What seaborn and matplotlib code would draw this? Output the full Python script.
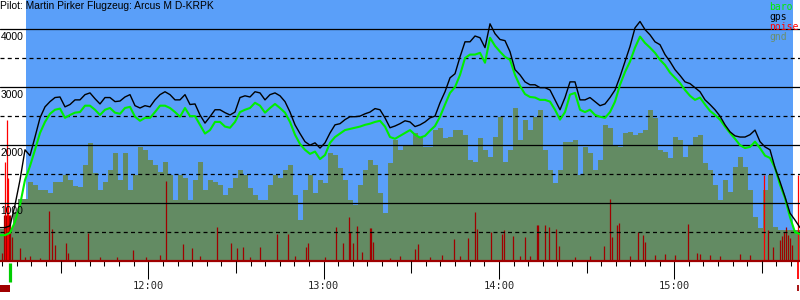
import numpy as np
import pandas as pd
import matplotlib
matplotlib.use("Agg")
import matplotlib.pyplot as plt
import matplotlib.transforms as mtransforms
from matplotlib.patches import Rectangle
import seaborn as sns

# ---------------- data ----------------
title_text = "Pilot: Martin Pirker Flugzeug: Arcus M D-KRPK"
legend_labels = ["baro", "gps", "noise", "gnd"]

# regular logger samples (minutes since midnight)
sample_start_min = 669.24      # 11:09:14
sample_step_min = 1.7114

gps_alt = [
    580, 580, 610, 970, 1400, 1920, 1820, 2140, 2470, 2660, 2750, 2820, 2830, 2660, 2700, 2780,
    2780, 2870, 2900, 2800, 2710, 2820, 2820, 2750, 2760, 2830, 2870, 2680, 2640, 2680, 2660, 2780,
    2870, 2920, 2870, 2780, 2780, 2870, 2700, 2710, 2520, 2380, 2490, 2610, 2610, 2560, 2520, 2570,
    2820, 2850, 2830, 2920, 2900, 2780, 2870, 2900, 2850, 2750, 2570, 2350, 2200, 2060, 2000, 2040,
    1950, 2040, 2210, 2350, 2370, 2440, 2490, 2490, 2500, 2540, 2570, 2630, 2610, 2470, 2300, 2330,
    2370, 2420, 2400, 2320, 2350, 2400, 2470, 2500, 2730, 2920, 3160, 3230, 3520, 3780, 3780, 3880,
    3850, 3680, 4090, 3920, 3820, 3800, 3610, 3300, 3210, 3090, 3040, 3040, 2990, 2990, 2950, 2780,
    2610, 2820, 3090, 3090, 2780, 2780, 2820, 2750, 2680, 2710, 2820, 2950, 3180, 3440, 3700, 4020,
    4130, 3990, 3900, 3780, 3730, 3560, 3440, 3300, 3200, 3090, 3060, 2990, 2920, 2780, 2700, 2610,
    2500, 2350, 2230, 2160, 2140, 2140, 2180, 2260, 2060, 1970, 1920, 1610, 1370, 1110, 830, 710,
    580,
]

baro_alt = [
    450, 450, 490, 680, 970, 1400, 1640, 1920, 2210, 2400, 2540, 2610, 2630, 2470, 2520, 2560,
    2570, 2680, 2680, 2610, 2520, 2610, 2640, 2560, 2540, 2640, 2660, 2490, 2420, 2470, 2470, 2570,
    2680, 2680, 2640, 2570, 2490, 2640, 2500, 2500, 2350, 2200, 2260, 2400, 2400, 2320, 2300, 2400,
    2570, 2610, 2640, 2730, 2680, 2560, 2640, 2710, 2640, 2560, 2400, 2180, 2020, 1920, 1850, 1890,
    1760, 1830, 2040, 2140, 2200, 2260, 2280, 2300, 2320, 2350, 2370, 2400, 2420, 2320, 2140, 2110,
    2160, 2210, 2260, 2180, 2130, 2160, 2250, 2330, 2490, 2700, 2900, 3000, 3210, 3500, 3560, 3560,
    3590, 3420, 3850, 3710, 3610, 3520, 3470, 3210, 3020, 2880, 2830, 2820, 2780, 2780, 2750, 2610,
    2440, 2570, 2870, 2900, 2610, 2570, 2610, 2520, 2490, 2470, 2570, 2750, 3040, 3260, 3440, 3680,
    3870, 3760, 3680, 3590, 3470, 3380, 3250, 3160, 3070, 2950, 2850, 2780, 2820, 2700, 2590, 2520,
    2440, 2320, 2210, 2110, 2000, 1950, 1970, 2060, 1950, 1820, 1780, 1610, 1320, 1090, 760, 500,
    470,
]

gnd_elev = [
    560, 560, 560, 850, 1070, 1070, 1370, 1320, 1230, 1230, 1180, 1370, 1370, 1490, 1400, 1300,
    1280, 1660, 2040, 1520, 1230, 1370, 1570, 1870, 1400, 1870, 1230, 1490, 1970, 1920, 1750, 1660,
    1540, 1710, 1490, 1060, 1490, 1440, 1060, 1400, 1710, 1230, 1400, 1370, 1320, 1140, 1260, 1440,
    1570, 1490, 1260, 1140, 1060, 1060, 1320, 1490, 1440, 1570, 1660, 1140, 710, 1230, 1490, 1180,
    1400, 1350, 1870, 1830, 1610, 1400, 1060, 970, 1320, 1570, 1750, 1660, 1180, 830, 1690, 2090,
    1920, 2000, 2000, 2210, 2140, 1970, 1970, 2260, 2300, 2130, 2140, 2260, 2260, 2180, 1750, 1710,
    2130, 1920, 1800, 2140, 2490, 1710, 1920, 2640, 2090, 2440, 2260, 2490, 2610, 1920, 1570, 1350,
    1570, 2060, 2060, 2090, 1490, 1970, 1870, 1570, 1750, 2350, 2300, 2000, 1970, 2210, 2230, 2180,
    2210, 2260, 2610, 2470, 1920, 1890, 1780, 2140, 2090, 1800, 2000, 2140, 2180, 1690, 1570, 1320,
    1060, 1400, 1190, 1630, 1800, 1630, 1230, 760, 570, 1230, 1490, 590, 540, 540, 540, 540,
    540,
]

noise_time_min = [
    669.9, 670.6, 670.9, 671.3, 671.6, 672.0, 672.3, 672.7, 673.3, 676.1,
    677.8, 679.5, 682.9, 686.0, 687.0, 688.1, 691.8, 692.5, 699.4, 703.5,
    709.3, 714.8, 719.2, 724.0, 726.1, 731.9, 735.0, 737.7, 743.5, 748.3,
    750.4, 752.4, 754.8, 758.2, 764.0, 767.8, 770.2, 774.0, 774.7, 780.5,
    784.2, 786.6, 788.7, 789.0, 790.1, 791.4, 793.1, 795.9, 796.2, 796.9,
    802.7, 806.1, 811.3, 812.3, 816.4, 820.5, 824.6, 826.7, 829.4, 831.8,
    832.5, 837.3, 841.1, 841.7, 844.8, 847.2, 848.9, 850.6, 853.0, 853.4,
    855.8, 857.1, 859.5, 860.6, 866.1, 871.2, 876.0, 878.0, 878.7, 880.4,
    881.1, 884.9, 887.6, 889.3, 890.0, 893.4, 896.9, 900.3, 904.7, 907.8,
    908.8, 912.3, 915.7, 922.5, 925.9, 930.7, 932.1, 933.8, 936.2, 936.9,
    937.6, 938.3, 938.9, 939.6, 940.3, 942.4,
]
noise_level = [
    150, 800, 1710, 800, 2440, 1440, 800, 800, 420, 230,
    80, 90, 60, 870, 560, 280, 320, 140, 490, 80,
    80, 200, 80, 110, 1390, 300, 230, 90, 590, 320,
    230, 250, 80, 250, 470, 470, 90, 250, 320, 80,
    590, 320, 760, 500, 320, 610, 160, 580, 580, 330,
    60, 90, 210, 300, 80, 110, 380, 90, 400, 850,
    560, 500, 470, 540, 440, 90, 420, 90, 630, 630,
    630, 590, 560, 260, 80, 90, 260, 1070, 420, 630,
    660, 90, 500, 450, 330, 110, 120, 110, 640, 140,
    120, 110, 90, 120, 110, 1490, 540, 250, 370, 440,
    500, 590, 450, 400, 280, 1490,
]

flight_start_min = 678.1    # 11:18
flight_end_min = 940.7      # 15:40
start_marker_min = 672.5
finish_marker_min = 942.4

x_range_min = (669.24, 943.06)
y_range = (0, 4500)
hour_ticks_min = [720, 780, 840, 900]
hour_tick_labels = ["12:00", "13:00", "14:00", "15:00"]
half_hour_ticks_min = [690, 750, 810, 870, 930]
minor_ticks_min = list(range(670, 945, 5))
alt_label_values = [1000, 2000, 3000, 4000]
grid_values = [500, 1000, 1500, 2000, 2500, 3000, 3500, 4000]

# ---------------- style ----------------
BLUE = "#5a9ff9"
GND = "#638b63"
BARO = "#00ee00"
NOISE = "#ff0000"
DARKRED = "#a00000"
W, H = 800, 300
AX_H = 261.3

sns.set_style("white")
plt.rcParams["font.family"] = ["Liberation Sans", "DejaVu Sans"]

n = len(gps_alt)
times = sample_start_min + sample_step_min * np.arange(n)
df = pd.DataFrame({"t": times, "gps": gps_alt, "baro": baro_alt, "gnd": gnd_elev})

fig = plt.figure(figsize=(W / 100, H / 100), dpi=100)
ax = fig.add_axes([0, 1 - AX_H / H, 1, AX_H / H])
ax.set_facecolor("white")
for s in ax.spines.values():
    s.set_visible(False)

ax.axvspan(flight_start_min, flight_end_min, color=BLUE, lw=0, zorder=0)
ax.fill_between(df["t"], 0, df["gnd"], step="mid", color=GND, lw=0, zorder=1)

nt = np.array(noise_time_min)
nl = np.array(noise_level)
dark = nl <= 1420
ax.vlines(nt[~dark], 0, nl[~dark], color=NOISE, lw=0.9, zorder=2)
ax.vlines(nt[dark], 0, nl[dark], color=DARKRED, lw=0.9, zorder=2.1)

for v in grid_values:
    ls = "-" if v % 1000 == 0 else (0, (3.2, 2.6))
    ax.axhline(v, color="black", lw=0.9, ls=ls, zorder=3)

sns.lineplot(data=df, x="t", y="baro", ax=ax, color=BARO, lw=1.5,
             estimator=None, sort=False, legend=False, zorder=4)
sns.lineplot(data=df, x="t", y="gps", ax=ax, color="black", lw=1.0,
             estimator=None, sort=False, legend=False, zorder=5)

ax.axhline(0, color=DARKRED, lw=1.6, zorder=6, clip_on=False)

ax.set_xlim(*x_range_min)
ax.set_ylim(*y_range)
ax.set_xlabel("")
ax.set_ylabel("")
ax.set_yticks([])

# x ticks
ax.set_xticks(hour_ticks_min)
ax.set_xticklabels(hour_tick_labels, family="DejaVu Sans Mono", fontsize=7.5)
ax.set_xticks(minor_ticks_min, minor=True)
ax.tick_params(axis="x", which="major", length=13, width=0.75, color="black",
               pad=1.5, bottom=True, direction="out")
ax.tick_params(axis="x", which="minor", length=3.6, width=0.75, color="black",
               bottom=True, direction="out")
ax2 = ax.twiny()
ax2.set_xlim(*x_range_min)
ax2.xaxis.set_ticks_position("bottom")
ax2.set_xticks(half_hour_ticks_min)
ax2.set_xticklabels([])
ax2.tick_params(axis="x", length=8.6, width=0.75, color="black", direction="out")
ax2.set_yticks([])
for s in ax2.spines.values():
    s.set_visible(False)
ax2.patch.set_visible(False)

# altitude labels
yt = mtransforms.blended_transform_factory(ax.transAxes, ax.transData)
yt = mtransforms.offset_copy(yt, fig=fig, x=0.5, y=-2.5, units="dots")
for v in alt_label_values:
    ax.text(0, v, f"{v}", transform=yt, ha="left", va="top", fontsize=7.4,
            color="black", zorder=7)

# markers below the axis
xt = ax.get_xaxis_transform()
ax.vlines(start_marker_min, -1.5 / AX_H, -21 / AX_H, transform=xt, color="#00cc00",
          lw=2.3, clip_on=False)
ax.vlines(finish_marker_min, 0, -18 / AX_H, transform=xt, color=NOISE,
          lw=1.3, clip_on=False)
ax.vlines(finish_marker_min, -24 / AX_H, -30 / AX_H, transform=xt, color=DARKRED,
          lw=1.3, clip_on=False)
ax.add_patch(Rectangle((x_range_min[0], -31 / AX_H), 3.4, 7 / AX_H, transform=xt,
                       color=DARKRED, lw=0, clip_on=False))

# title
fig.text(0.5 / W, 1 - 1 / H, title_text, ha="left", va="top", fontsize=7.4, color="black")

# legend
legend_colors = [BARO, "black", NOISE, "#6b8f6b"]
for i, (lab, col) in enumerate(zip(legend_labels, legend_colors)):
    fig.text(769 / W, 1 - (1.5 + 10 * i) / H, lab, ha="left", va="top",
             family="DejaVu Sans Mono", fontsize=7.0, color=col)

fig.savefig("out.png", dpi=100)
